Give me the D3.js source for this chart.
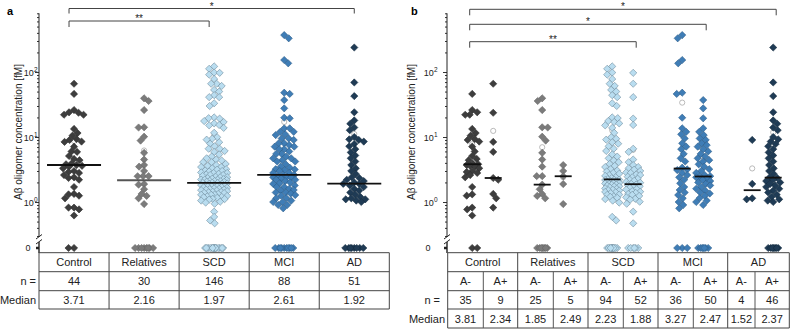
<!DOCTYPE html>
<html>
<head>
<meta charset="utf-8">
<script src="https://cdn.jsdelivr.net/npm/d3@7"></script>
<style>
  body { margin: 0; background: #fff; }
  svg { font-family: Arial, "Liberation Sans", sans-serif; }
</style>
</head>
<body>
<svg id="chart" width="800" height="330"></svg>
<script>
// ---------- data ----------
const groups = ["Control", "Relatives", "SCD", "MCI", "AD"];
const subgroups = ["A-", "A+"];
const nAll = [44, 30, 146, 88, 51];
const medianAll = [3.71, 2.16, 1.97, 2.61, 1.92];
const nSplit = [[35, 9], [25, 5], [94, 52], [36, 50], [4, 46]];
const medianSplit = [[3.81, 2.34], [1.85, 2.49], [2.23, 1.88], [3.27, 2.47], [1.52, 2.37]];
const majorTicks = [1, 10, 100];
const majorExp = ["0", "1", "2"];

// concentrations in fM, 0 = not detected
const controlNeg = [46, 26, 24, 22, 22, 13.3, 11.5, 10.5, 9.3, 9.0, 8.5, 7.1, 6.0, 5.1, 4.6, 4.4, 3.9, 3.81,
  3.7, 3.6, 3.5, 3.3, 3.0, 2.9, 2.8, 2.6, 2.4, 1.7, 1.31, 1.25, 0.82, 0.77, 0.62, 0, 0];
const controlPos = [66, 23.6, 8.4, 5.9, 2.34, 2.2, 1.33, 1.14, 0.82];
const relativesNeg = [39.4, 35.8, 26, 14.1, 14.0, 10.1, 8.8, 5.7, 4.5, 3.5, 2.5, 2.5, 1.85, 1.57, 1.33, 1.24, 1.14,
  0, 0, 0, 0, 0, 0, 0, 0];
const relativesPos = [3.7, 3.0, 2.49, 1.89, 0.93];
const scdNeg = [122, 112, 98, 91, 78, 66, 61, 53, 50, 44, 41, 33, 30, 20, 19.5, 17.6, 17, 16.2, 15.1, 13.8,
  11.6, 9.9, 9.4, 9.1, 8.3, 7.9, 7.2, 6.6, 6.1, 5.4, 5.0, 4.7, 4.35, 4.1, 3.85, 3.6, 3.45, 3.2, 3.05, 2.95,
  2.8, 2.72, 2.6, 2.52, 2.41, 2.33, 2.25, 2.21, 2.2, 2.18, 2.1, 2.08, 2.05, 1.98, 1.96, 1.93, 1.9, 1.85, 1.84,
  1.79, 1.74, 1.73, 1.68, 1.62, 1.6, 1.55, 1.52, 1.5, 1.43, 1.41, 1.37, 1.3, 1.29, 1.22, 1.2, 1.16, 1.11, 1.05,
  0.98, 0.59, 0.52, 0, 0, 0, 0, 0, 0, 0, 0, 0, 0, 0, 0, 0];
const scdPos = [97, 66, 41, 19.2, 15.3, 6.6, 5.9, 4.5, 4.1, 3.7, 3.45, 3.3, 3.15, 3.0, 2.85, 2.8, 2.65, 2.6,
  2.45, 2.4, 2.28, 2.2, 2.12, 2.04, 1.98, 1.9, 1.86, 1.82, 1.74, 1.7, 1.66, 1.58, 1.55, 1.47, 1.44, 1.38,
  1.33, 1.29, 1.24, 1.18, 1.12, 1.09, 1.01, 0.94, 0.71, 0.47, 0, 0, 0, 0, 0, 0];
const mciNeg = [370, 330, 153, 136, 48, 46, 19.8, 13.6, 12, 11, 9.5, 8, 7.1, 6.5, 5.5, 4.7, 4.2, 3.37, 3.17,
  3.1, 2.8, 2.6, 2.4, 2.2, 1.94, 1.7, 1.53, 1.4, 1.28, 1.14, 1.0, 0.9, 0.8, 0, 0, 0];
const mciPos = [37, 27.6, 19.4, 13.6, 12, 10.7, 9.5, 9, 8, 7.5, 7.1, 6.5, 6, 5.5, 5, 4.7, 4.4, 4.2, 3.8, 3.5,
  3.2, 3.0, 2.8, 2.6, 2.5, 2.44, 2.4, 2.3, 2.2, 2.1, 2.0, 1.9, 1.8, 1.7, 1.6, 1.5, 1.4, 1.35, 1.25, 1.15,
  1.05, 1.0, 0.9, 0, 0, 0, 0, 0, 0, 0];
const adNeg = [9.0, 1.9, 1.14, 1.1];
const adPos = [238, 69, 42.6, 24, 18, 16, 14, 12.7, 10, 9.2, 8.5, 7.8, 7.2, 6.5, 5.8, 5.2, 4.7, 4.2, 3.7, 3.3,
  3.0, 2.7, 2.4, 2.34, 2.2, 2.1, 2.0, 1.9, 1.8, 1.7, 1.6, 1.5, 1.4, 1.3, 1.2, 1.1, 1.05, 1.0,
  0, 0, 0, 0, 0, 0, 0, 0];

const splitValues = [[controlNeg, controlPos], [relativesNeg, relativesPos], [scdNeg, scdPos],
  [mciNeg, mciPos], [adNeg, adPos]];

const fills = ["#3d3d3d", "#7b7b7b", "#b9ddf0", "#3f7db6", "#1f3b55"];
const strokes = ["#2e2e2e", "#666", "#6f8c9c", "#2c5c88", "#132a3e"];
const medianColors = ["#111", "#555", "#111", "#111", "#111"];

// significance brackets
const bracketsA = [["Control", "AD", "*"], ["Control", "SCD", "**"]];
const bracketsB = [[0, 0, 4, 1, "*"], [0, 0, 3, 1, "*"], [0, 0, 2, 1, "**"]];

// ---------- layout ----------
const svg = d3.select("#chart");
const y = d3.scaleLog().domain([0.25, 800]).range([202 + Math.log10(4) * 65, 202 - Math.log10(800) * 65]);
const zeroY = 248;
const yOf = v => v > 0 ? y(v) : zeroY;

const xA = d3.scaleBand().domain(groups).range([39, 389.3]);
const xB = d3.scaleBand().domain(groups).range([447.7, 797.7]);
const subX = d3.scalePoint().domain(subgroups).range([-10.5, 10.5]);
const cA = g => xA(g) + xA.bandwidth() / 2;
const cB = (g, s) => xB(g) + xB.bandwidth() / 2 + subX(s);

const diamond = "M0,-3.6L3.6,0L0,3.6L-3.6,0Z";

// simple swarm: place each point at the nearest free offset within a half width
function swarm(values, halfWidth, zeroHalf, r, flip) {
  const pts = values.map(v => ({ v, y: yOf(v) })).sort((a, b) => a.y - b.y);
  const placed = [];
  pts.forEach((p, i) => {
    const hw = p.v > 0 ? halfWidth : zeroHalf;
    let best = 0, bestScore = -1;
    const sgn = (i + flip) % 2 ? -1 : 1;
    outer:
    for (let dx = 0; dx <= hw; dx += 0.5) {
      for (const s of dx ? [sgn, -sgn] : [1]) {
        const ox = s * dx;
        let md = Infinity;
        for (const q of placed) {
          if (Math.abs(q.y - p.y) < 2 * r) md = Math.min(md, Math.hypot(q.ox - ox, q.y - p.y));
        }
        if (md >= 2 * r) { best = ox; break outer; }
        if (md > bestScore) { bestScore = md; best = ox; }
      }
    }
    p.ox = best;
    placed.push(p);
  });
  return pts;
}

function drawAxis(x0, labelGap, titleX) {
  const g = svg.append("g");
  const minor = [];
  [0.1, 1, 10, 100].forEach(k => d3.range(2, 10).forEach(m => {
    const v = m * k;
    if (v >= 0.3 && v <= 800) minor.push(v);
  }));
  g.append("g").attr("transform", `translate(${x0},0)`)
    .call(d3.axisLeft(y).tickValues(minor).tickSize(2).tickFormat(""))
    .call(a => a.select(".domain").remove())
    .call(a => a.selectAll("line").attr("stroke", "#333"));
  g.append("g").attr("transform", `translate(${x0},0)`)
    .call(d3.axisLeft(y).tickValues(majorTicks).tickSize(4).tickFormat(""))
    .call(a => a.select(".domain").remove())
    .call(a => a.selectAll("line").attr("stroke", "#333"));
  const lab = g.selectAll("text.tl").data(majorTicks).join("text")
    .attr("class", "tl")
    .attr("x", x0 - labelGap).attr("y", d => y(d) + 3.8)
    .attr("text-anchor", "end").attr("font-size", 9).attr("fill", "#222");
  lab.append("tspan").text("10");
  lab.append("tspan").attr("font-size", 6.5).attr("dy", -4.3).text((d, i) => majorExp[i]);

  // axis line with break
  g.append("line").attr("x1", x0).attr("x2", x0).attr("y1", y(800)).attr("y2", 237).attr("stroke", "#222");
  g.append("line").attr("x1", x0).attr("x2", x0).attr("y1", 242).attr("y2", 253).attr("stroke", "#222").attr("stroke-width", 1.4);
  g.append("line").attr("x1", x0 - 3).attr("x2", x0 + 3).attr("y1", 239).attr("y2", 234.5).attr("stroke", "#222");
  g.append("line").attr("x1", x0 - 3).attr("x2", x0 + 3).attr("y1", 244).attr("y2", 239.5).attr("stroke", "#222");
  g.append("line").attr("x1", x0 - 3).attr("x2", x0).attr("y1", zeroY).attr("y2", zeroY).attr("stroke", "#222").attr("stroke-width", 2.5);
  g.append("text").attr("x", x0 - labelGap - 7).attr("y", zeroY + 3.3).attr("text-anchor", "end")
    .attr("font-size", 9).attr("fill", "#222").text("0");

  g.append("text").attr("transform", `translate(${titleX},132) rotate(-90)`)
    .attr("text-anchor", "middle").attr("font-size", 10).attr("fill", "#222")
    .text("Aβ oligomer concentration [fM]");
}

function drawPoints(vals, cx, halfWidth, zeroHalf, gi, flip) {
  const g = svg.append("g");
  const pts = swarm(vals, halfWidth, zeroHalf, 2.6, flip);
  // mean marker sits underneath the points
  const mean = d3.mean(vals);
  g.append("circle").attr("cx", cx).attr("cy", y(mean)).attr("r", 2.6)
    .attr("fill", "#fff").attr("stroke", "#aaa").attr("stroke-width", 0.8);
  g.selectAll("path").data(pts).join("path")
    .attr("d", diamond)
    .attr("transform", d => `translate(${cx + d.ox},${d.y})`)
    .attr("fill", fills[gi]).attr("stroke", strokes[gi]).attr("stroke-width", 0.6);
}

function bracket(x1, x2, yy, leg, label, fs) {
  const g = svg.append("g");
  g.append("path").attr("d", `M${x1},${yy + leg}V${yy}H${x2}V${yy + leg}`)
    .attr("fill", "none").attr("stroke", "#444").attr("stroke-width", 1);
  g.append("text").attr("x", (x1 + x2) / 2).attr("y", yy + 1).attr("text-anchor", "middle")
    .attr("font-size", fs).attr("fill", "#222").text(label);
}

// ---------- panel a ----------
svg.append("text").attr("x", 7).attr("y", 15).attr("font-size", 11).attr("font-weight", "bold").text("a");
drawAxis(39, 1.5, 22);
groups.forEach((g, gi) => {
  const vals = splitValues[gi][0].concat(splitValues[gi][1]);
  drawPoints(vals, cA(g), gi === 2 ? 13 : 11, 9, gi, gi);
});
svg.append("g").selectAll("line").data(groups).join("line")
  .attr("x1", d => cA(d) - 27).attr("x2", d => cA(d) + 27)
  .attr("y1", (d, i) => y(medianAll[i])).attr("y2", (d, i) => y(medianAll[i]))
  .attr("stroke", (d, i) => medianColors[i]).attr("stroke-width", 1.8);
bracket(cA("Control") - 5, cA("AD"), 8.5, 5, bracketsA[0][2], 10);
bracket(cA("Control") - 5, cA("SCD") - 5, 21, 6, bracketsA[1][2], 10);

// table a
const tA = svg.append("g").attr("font-size", 11).attr("fill", "#222");
const rowsA = [252.7, 271.7, 290.7, 309];
tA.selectAll("line.h").data(rowsA).join("line").attr("class", "h")
  .attr("x1", 39).attr("x2", 389.3).attr("y1", d => d).attr("y2", d => d)
  .attr("stroke", "#444");
tA.selectAll("line.v").data(groups.map(g => xA(g)).concat([389.3])).join("line").attr("class", "v")
  .attr("x1", d => d).attr("x2", d => d).attr("y1", 252.7).attr("y2", 309)
  .attr("stroke", "#444");
groups.forEach((g, i) => {
  const cx = cA(g);
  tA.append("text").attr("x", cx).attr("y", 266).attr("text-anchor", "middle").text(g);
  tA.append("text").attr("x", cx).attr("y", 285).attr("text-anchor", "middle").text(nAll[i]);
  tA.append("text").attr("x", cx).attr("y", 304).attr("text-anchor", "middle").text(medianAll[i].toFixed(2));
});
tA.append("text").attr("x", 36).attr("y", 285).attr("text-anchor", "end").text("n =");
tA.append("text").attr("x", 36).attr("y", 304).attr("text-anchor", "end").text("Median");

// ---------- panel b ----------
svg.append("text").attr("x", 411).attr("y", 15).attr("font-size", 11).attr("font-weight", "bold").text("b");
drawAxis(447, 9.5, 415);
groups.forEach((g, gi) => {
  subgroups.forEach((s, si) => {
    drawPoints(splitValues[gi][si], cB(g, s), 7, 5, gi, si);
  });
});
const medB = [];
groups.forEach((g, gi) => subgroups.forEach((s, si) => medB.push({ g, s, v: medianSplit[gi][si], gi })));
svg.append("g").selectAll("line").data(medB).join("line")
  .attr("x1", d => cB(d.g, d.s) - 8.5).attr("x2", d => cB(d.g, d.s) + 8.5)
  .attr("y1", d => y(d.v)).attr("y2", d => y(d.v))
  .attr("stroke", "#111").attr("stroke-width", 1.8);
const bLevels = [9.3, 24.3, 41.7];
bracketsB.forEach((b, i) => {
  bracket(cB(groups[b[0]], subgroups[b[1]]) - 2.5, cB(groups[b[2]], subgroups[b[3]]) + 3, bLevels[i], 6, b[4], 10);
});

// table b
const tB = svg.append("g").attr("font-size", 11).attr("fill", "#222");
const groupEdgesB = [447.7, 517.7, 588, 658, 727.7, 789.3];
const subEdgesB = [483.3, 553.3, 623.3, 693.3, 755];
const rowsB = [252.7, 271.7, 290.7, 309, 328];
tB.selectAll("line.h").data(rowsB).join("line").attr("class", "h")
  .attr("x1", 447.7).attr("x2", 789.3).attr("y1", d => d).attr("y2", d => d)
  .attr("stroke", "#444");
tB.selectAll("line.v").data(groupEdgesB).join("line").attr("class", "v")
  .attr("x1", d => d).attr("x2", d => d).attr("y1", 252.7).attr("y2", 328)
  .attr("stroke", "#444");
tB.selectAll("line.s").data(subEdgesB).join("line").attr("class", "s")
  .attr("x1", d => d).attr("x2", d => d).attr("y1", 271.7).attr("y2", 328)
  .attr("stroke", "#555");
groups.forEach((g, i) => {
  const l = groupEdgesB[i], r = groupEdgesB[i + 1], m = subEdgesB[i];
  tB.append("text").attr("x", (l + r) / 2).attr("y", 266).attr("text-anchor", "middle").text(g);
  [[l, m], [m, r]].forEach(([a, b], si) => {
    const cx = (a + b) / 2;
    tB.append("text").attr("x", cx).attr("y", 285).attr("text-anchor", "middle").text(subgroups[si]);
    tB.append("text").attr("x", cx).attr("y", 304).attr("text-anchor", "middle").text(nSplit[i][si]);
    tB.append("text").attr("x", cx).attr("y", 322.5).attr("text-anchor", "middle").text(medianSplit[i][si].toFixed(2));
  });
});
tB.append("text").attr("x", 440).attr("y", 304).attr("text-anchor", "end").text("n =");
tB.append("text").attr("x", 445).attr("y", 322.5).attr("text-anchor", "end").text("Median");
</script>
</body>
</html>
